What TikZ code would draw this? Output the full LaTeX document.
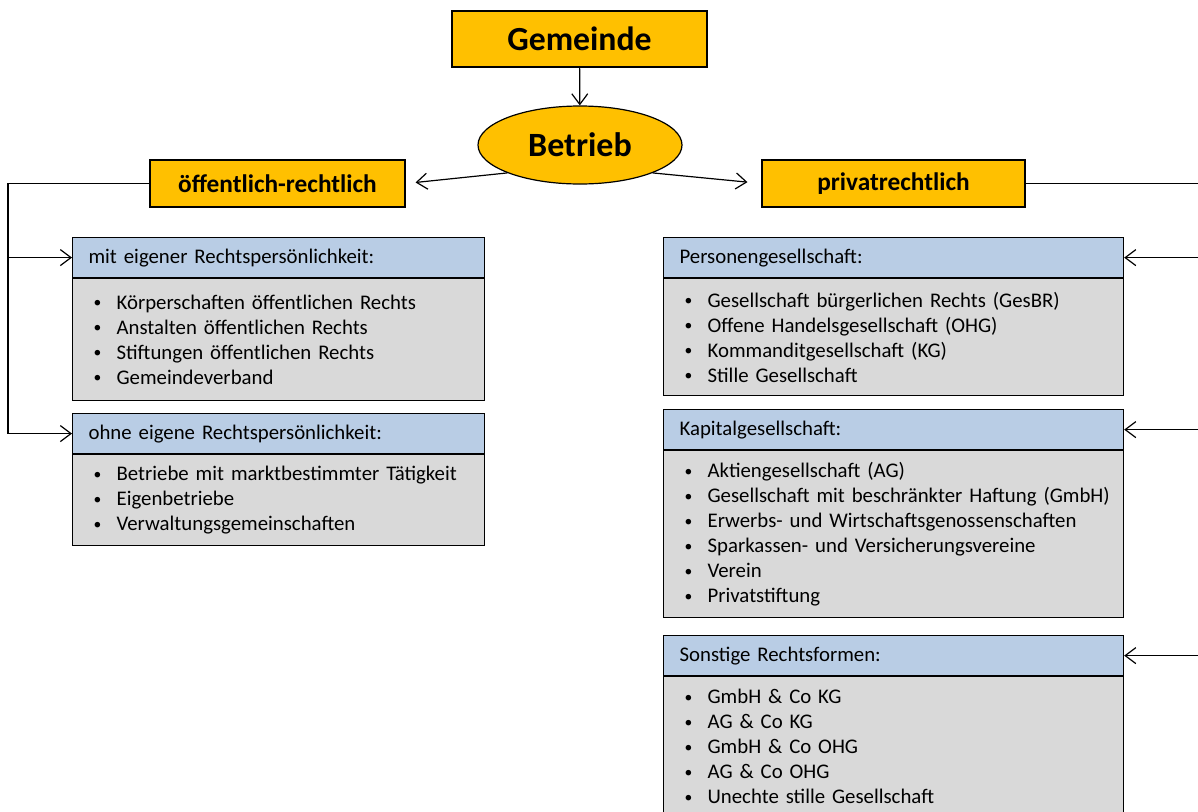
\documentclass[tikz,border=0pt]{standalone}
\usepackage{fontspec}
\setmainfont{Carlito}
\usetikzlibrary{shapes.geometric,arrows.meta}
\definecolor{gold}{HTML}{FFC000}
\definecolor{hblue}{HTML}{B9CDE5}
\definecolor{bgrey}{HTML}{D9D9D9}
\newcommand{\bul}[1]{\mbox{\makebox[17.25pt][l]{\raisebox{0.15ex}{\scalebox{0.75}{\textbullet}}}#1}}
\begin{document}
\begin{tikzpicture}[x=0.75pt,y=-0.75pt,line width=0.9pt,
  arr/.style={-{Straight Barb[length=8pt,width=12pt,line width=0.9pt]}},
  goldbox/.style={draw=black,fill=gold,inner sep=0pt,font=\bfseries\fontsize{19}{22}\selectfont},
  hdrL/.style={draw=black,fill=hblue,anchor=north west,inner sep=0pt,inner xsep=12pt,
     text width=285pt,minimum height=30pt,align=left,font=\fontsize{15.6}{18}\selectfont},
  hdrR/.style={hdrL,text width=321pt},
  bodyL/.style={draw=black,fill=bgrey,anchor=north west,inner sep=0pt,inner xsep=15.75pt,
     text width=277.5pt,align=left,font=\fontsize{15.6}{18.75}\selectfont},
  bodyR/.style={bodyL,text width=313.5pt}
]
\clip (0,0) rectangle (1198,811);

\node[goldbox,minimum width=191.25pt,minimum height=42pt,font=\bfseries\fontsize{25.3}{28}\selectfont] (gem) at (579.5,39) {Gemeinde};
\node[goldbox,ellipse,minimum width=153pt,minimum height=58.5pt,font=\bfseries\fontsize{25.5}{28}\selectfont] (bet) at (580,145) {Betrieb};
\node[goldbox,minimum width=191.25pt,minimum height=35.25pt] (oef) at (277.5,183.5) {öffentlich-rechtlich};
\node[goldbox,minimum width=197.25pt,minimum height=35.25pt] (pri) at (893.5,183.5) {privatrechtlich};

% left side
\node[hdrL] (h1) at (72,237) {mit eigener Rechtspersönlichkeit:};
\node[bodyL,minimum height=91.5pt] (b1) at (h1.south west) {\bul{Körperschaften öffentlichen Rechts}\\\bul{Anstalten öffentlichen Rechts}\\\bul{Stiftungen öffentlichen Rechts}\\\bul{Gemeindeverband}};
\node[hdrL] (h2) at (72,413) {ohne eigene Rechtspersönlichkeit:};
\node[bodyL,minimum height=68.25pt] (b2) at (h2.south west) {\bul{Betriebe mit marktbestimmter Tätigkeit}\\\bul{Eigenbetriebe}\\\bul{Verwaltungsgemeinschaften}};

% right side
\node[hdrR] (hp) at (663,237) {Personengesellschaft:};
\node[bodyR,minimum height=87.75pt] (bp) at (hp.south west) {\bul{Gesellschaft bürgerlichen Rechts (GesBR)}\\\bul{Offene Handelsgesellschaft (OHG)}\\\bul{Kommanditgesellschaft (KG)}\\\bul{Stille Gesellschaft}};
\node[hdrR] (hk) at (663,409) {Kapitalgesellschaft:};
\node[bodyR,minimum height=125.25pt] (bk) at (hk.south west) {\bul{Aktiengesellschaft (AG)}\\\bul{Gesellschaft mit beschränkter Haftung (GmbH)}\\\bul{Erwerbs- und Wirtschaftsgenossenschaften}\\\bul{Sparkassen- und Versicherungsvereine}\\\bul{Verein}\\\bul{Privatstiftung}};
\node[hdrR] (hs) at (663,635) {Sonstige Rechtsformen:};
\node[bodyR,minimum height=105pt] (bs) at (hs.south west) {\bul{GmbH \& Co KG}\\\bul{AG \& Co KG}\\\bul{GmbH \& Co OHG}\\\bul{AG \& Co OHG}\\\bul{Unechte stille Gesellschaft}};

% connectors
\coordinate (lc) at (8,0);
\coordinate (rc) at (1202,0);
\draw[arr] (gem) -- (bet);
\draw[arr,shorten >=7.5pt] (bet.201) -- (oef.east);
\draw[arr,shorten >=10.5pt] (bet.-21) -- (pri.west);
\draw (oef.west) -- (oef.west -| lc) -- (h2.west -| lc);
\draw[arr] (h1.west -| lc) -- (h1.west);
\draw[arr] (h2.west -| lc) -- (h2.west);
\draw (pri.east) -- (pri.east -| rc) -- (hs.east -| rc);
\draw[arr] (hp.east -| rc) -- (hp.east);
\draw[arr] (hk.east -| rc) -- (hk.east);
\draw[arr] (hs.east -| rc) -- (hs.east);
\end{tikzpicture}
\end{document}
